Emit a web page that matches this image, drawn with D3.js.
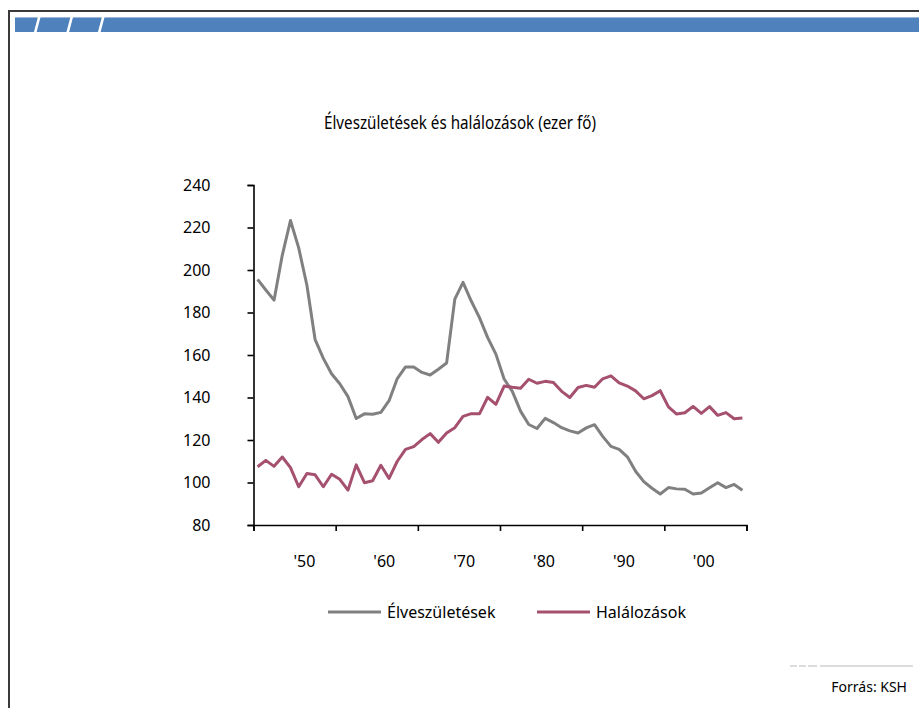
<!DOCTYPE html>
<html>
<head>
<meta charset="utf-8">
<script src="https://cdn.jsdelivr.net/npm/d3@7"></script>
<style>
  html, body { margin: 0; padding: 0; background: #fff; }
  text { font-family: "Noto Sans", "Open Sans", sans-serif; fill: #000; }
</style>
</head>
<body>
<svg id="chart" width="919" height="708"></svg>
<script>
// data (ezer fő), 1950-2009
const years = d3.range(1950, 2010);
const births = [195.6, 190.6, 185.8, 206.9, 223.3, 210.4, 192.8, 167.2, 158.4, 151.2,
  146.5, 140.4, 130.1, 132.3, 132.1, 133.0, 138.5, 148.9, 154.4, 154.3,
  151.8, 150.6, 153.3, 156.2, 186.3, 194.2, 185.4, 177.6, 168.2, 160.4,
  148.7, 142.9, 133.6, 127.3, 125.4, 130.2, 128.2, 125.8, 124.3, 123.3,
  125.7, 127.2, 121.7, 117.0, 115.6, 112.1, 105.3, 100.4, 97.3, 94.6,
  97.6, 97.0, 96.8, 94.6, 95.1, 97.5, 99.9, 97.6, 99.1, 96.4];
const deaths = [107.4, 110.4, 107.6, 112.0, 107.0, 98.0, 104.2, 103.6, 98.0, 103.9,
  101.5, 96.4, 108.3, 99.9, 100.8, 108.1, 101.9, 110.0, 115.6, 116.9,
  120.2, 123.0, 118.9, 123.3, 125.8, 131.1, 132.4, 132.3, 140.1, 136.8,
  145.4, 144.8, 144.3, 148.6, 146.7, 147.6, 147.1, 142.9, 140.0, 144.7,
  145.7, 144.8, 148.8, 150.2, 146.9, 145.4, 143.1, 139.4, 140.9, 143.2,
  135.6, 132.2, 132.8, 135.8, 132.5, 135.7, 131.6, 132.9, 130.0, 130.4];
const yTicks = [80, 100, 120, 140, 160, 180, 200, 220, 240];
const decadeTicks = [1950, 1960, 1970, 1980, 1990, 2000, 2010];
const decadeLabels = ["'50", "'60", "'70", "'80", "'90", "'00"];
const seriesNames = ["Élveszületések", "Halálozások"];
const seriesColors = ["#808080", "#A5506F"];

const svg = d3.select("#chart");

// frame + banner
svg.append("path")
  .attr("d", "M9,708V11H919")
  .attr("fill", "none")
  .attr("stroke", "#3a3a3a")
  .attr("stroke-width", 2);

svg.append("rect")
  .attr("x", 15).attr("y", 17)
  .attr("width", 904).attr("height", 15)
  .attr("fill", "#4F81BD");
svg.append("line")
  .attr("x1", 15).attr("x2", 919)
  .attr("y1", 17.5).attr("y2", 17.5)
  .attr("stroke", "#9DB7DA");

[35, 67.5, 99].forEach(x0 => {
  svg.append("line")
    .attr("x1", x0).attr("y1", 33)
    .attr("x2", x0 + 4.5).attr("y2", 16)
    .attr("stroke", "#fff")
    .attr("stroke-width", 2.6);
});

// title
svg.append("text")
  .attr("x", 460).attr("y", 129)
  .attr("text-anchor", "middle")
  .attr("textLength", 272)
  .attr("lengthAdjust", "spacingAndGlyphs")
  .style("font-size", "18px")
  .text("Élveszületések és halálozások (ezer fő)");

// scales
const x = d3.scaleLinear().domain([1950, 2010]).range([253.5, 746.5]);
const y = d3.scaleLinear().domain([80, 240]).range([525, 185]);
const labelX = d3.scaleLinear().domain([1950, 2000]).range([x(1956.2), x(2004.8)]);

// axes
const yAxis = svg.append("g")
  .attr("transform", `translate(${x(1950)},0)`)
  .call(d3.axisLeft(y).tickValues(yTicks).tickSize(6).tickPadding(37));
yAxis.selectAll("text").style("font-size", "16px").attr("fill", "#000");

const xAxis = svg.append("g")
  .attr("transform", `translate(0,${y(80)})`)
  .call(d3.axisBottom(x).tickValues(decadeTicks).tickSize(6).tickFormat(""));

[yAxis, xAxis].forEach(g => {
  g.select(".domain").attr("stroke", "#000").attr("stroke-width", 1.6);
  g.selectAll(".tick line").attr("stroke", "#000").attr("stroke-width", 1.6);
});

svg.selectAll(".xlab")
  .data(decadeLabels)
  .enter().append("text")
  .attr("class", "xlab")
  .attr("x", (d, i) => labelX(1950 + i * 10))
  .attr("y", 567)
  .attr("text-anchor", "middle")
  .style("font-size", "16px")
  .text(d => d);

// lines
const line = d3.line()
  .x((d, i) => x(years[i] + 0.5))
  .y(d => y(d));

[births, deaths].forEach((vals, k) => {
  svg.append("path")
    .datum(vals)
    .attr("d", line)
    .attr("fill", "none")
    .attr("stroke", seriesColors[k])
    .attr("stroke-width", 3)
    .attr("stroke-linejoin", "round");
});

// legend
const legendX = [328, 537];
seriesNames.forEach((name, k) => {
  svg.append("line")
    .attr("x1", legendX[k]).attr("x2", legendX[k] + 53)
    .attr("y1", 612).attr("y2", 612)
    .attr("stroke", seriesColors[k])
    .attr("stroke-width", 3);
  svg.append("text")
    .attr("x", legendX[k] + 59).attr("y", 618)
    .style("font-size", "16px")
    .text(name);
});

// source
svg.append("path")
  .attr("d", "M790,666H797M799,666H806M808,666H817M820,666H913")
  .attr("stroke", "#dcdcdc")
  .attr("stroke-width", 2);
svg.append("text")
  .attr("x", 907).attr("y", 692)
  .attr("text-anchor", "end")
  .style("font-size", "14px")
  .text("Forrás: KSH");
</script>
</body>
</html>
